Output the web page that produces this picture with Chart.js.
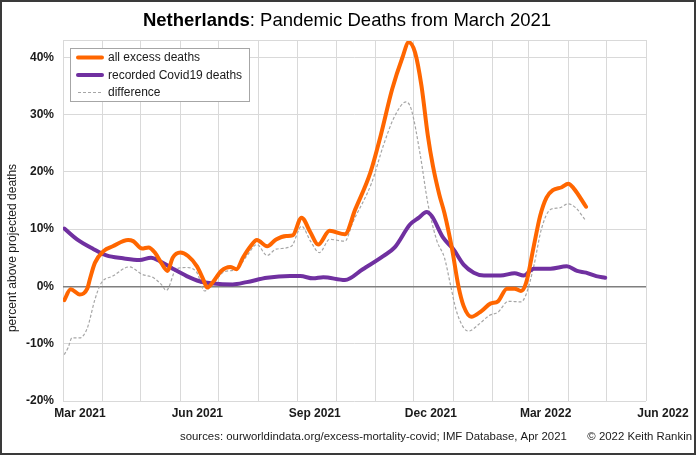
<!DOCTYPE html>
<html>
<head>
<meta charset="utf-8">
<script src="https://cdn.jsdelivr.net/npm/chart.js@4.4.1/dist/chart.umd.min.js"></script>
<style>
  html, body { margin: 0; padding: 0; background: #fff; }
  #wrap { width: 696px; height: 455px; position: relative; }
</style>
</head>
<body>
<div id="wrap"><canvas id="c"></canvas></div>
<script>
// x values: days since 1 March 2021
const monthTicks = [0, 31, 61, 92, 122, 153, 184, 214, 245, 275, 306, 337, 365, 396, 426, 457];
const monthLabels = ['Mar 2021', '', '', 'Jun 2021', '', '', 'Sep 2021', '', '', 'Dec 2021', '', '', 'Mar 2022', '', '', 'Jun 2022'];
const yTicks = [-20, -10, 0, 10, 20, 30, 40];

const excessDays = [1, 6, 13, 19, 21, 25, 32, 39, 51, 55, 62, 67, 72, 77, 82, 86, 92, 98, 105, 110, 113, 118, 124, 131, 136, 141, 147, 152, 160, 167, 175, 180, 187, 194, 200, 209, 221, 229, 241, 249, 258, 266, 271, 276, 281, 286, 290, 295, 299, 305, 310, 314, 320, 328, 335, 341, 348, 354, 359, 363, 369, 374, 379, 384, 391, 396, 400, 410];
const excessVals = [-2.4, -0.5, -1.4, -0.4, 1.2, 4.1, 6.2, 7.0, 8.1, 7.9, 6.6, 6.8, 5.9, 4.1, 2.7, 5.0, 5.9, 5.3, 3.5, 1.2, -0.2, 0.9, 2.7, 3.4, 3.0, 5.0, 7.0, 8.1, 7.0, 8.2, 8.8, 8.9, 12.0, 9.4, 7.3, 9.7, 9.1, 13.4, 19.9, 26.3, 34.4, 39.9, 42.6, 40.8, 35.0, 26.3, 21.0, 16.0, 12.8, 6.5, 0.0, -3.4, -5.3, -4.3, -3.0, -2.6, -0.4, -0.4, -0.8, 0.6, 7.0, 12.3, 15.5, 16.8, 17.3, 17.9, 17.2, 13.9];

const covidDays = [1, 11, 24, 34, 47, 60, 69, 76, 86, 97, 107, 118, 133, 144, 160, 178, 186, 196, 204, 221, 235, 251, 260, 272, 279, 285, 289, 298, 306, 314, 322, 330, 343, 354, 361, 369, 382, 395, 403, 410, 418, 425];
const covidVals = [10.1, 8.2, 6.5, 5.4, 4.9, 4.6, 5.0, 4.4, 3.1, 1.8, 0.9, 0.5, 0.35, 0.75, 1.5, 1.8, 1.8, 1.4, 1.6, 1.1, 3.0, 5.3, 6.8, 10.8, 12.0, 13.0, 12.3, 8.5, 6.5, 3.8, 2.4, 1.9, 1.9, 2.3, 1.9, 3.1, 3.1, 3.5, 2.7, 2.4, 1.8, 1.5];

const diffDays = [1, 4, 7, 13, 19, 25, 30, 39, 52, 62, 71, 77, 81, 89, 97, 105, 111, 118, 126, 136, 144, 152, 160, 167, 179, 187, 194, 201, 209, 221, 227, 242, 251, 260, 269, 273, 280, 286, 293, 299, 304, 308, 314, 318, 326, 334, 341, 349, 359, 363, 369, 375, 382, 389, 396, 402, 410];
const diffVals = [-11.9, -10.7, -9.0, -9.0, -7.3, -2.3, 0.6, 1.8, 3.4, 2.1, 1.5, 0.35, -0.7, 3.1, 3.3, 2.4, -0.8, 0.6, 2.5, 3.0, 5.3, 7.3, 5.4, 6.5, 7.0, 10.5, 7.9, 5.9, 8.2, 7.9, 11.1, 18.1, 24.5, 29.7, 32.2, 30.9, 23.0, 14.5, 8.0, 5.0, 0.0, -4.0, -7.2, -7.8, -6.6, -5.1, -4.5, -2.6, -2.7, -1.4, 3.5, 10.0, 13.4, 13.7, 14.4, 13.7, 11.4];

const toPts = (xs, ys) => xs.map((x, i) => ({ x: x, y: ys[i] }));

const FONT = '"Liberation Sans", Arial, sans-serif';
const ORANGE = '#ff6600';
const PURPLE = '#7030a0';
const GREY = '#a6a6a6';

const decor = {
  id: 'decor',
  beforeDraw(chart) {
    const ctx = chart.ctx;
    ctx.save();
    ctx.fillStyle = '#fff';
    ctx.fillRect(0, 0, chart.width, chart.height);
    ctx.restore();
  },
  afterDatasetsDraw(chart) {
    const ctx = chart.ctx;
    const a = chart.chartArea;
    ctx.save();
    // top border of plot
    ctx.strokeStyle = '#d9d9d9';
    ctx.lineWidth = 1;
    ctx.beginPath();
    ctx.moveTo(a.left, Math.round(a.top) + 0.5);
    ctx.lineTo(a.right, Math.round(a.top) + 0.5);
    ctx.stroke();

    // legend
    const lx = 70.5, ly = 48.5, lw = 179, lh = 53;
    ctx.fillStyle = '#fff';
    ctx.fillRect(lx, ly, lw, lh);
    ctx.strokeStyle = '#a6a6a6';
    ctx.lineWidth = 1;
    ctx.strokeRect(lx, ly, lw, lh);
    const items = [
      { t: 'all excess deaths', c: ORANGE, w: 4, d: [] , y: 57.5},
      { t: 'recorded Covid19 deaths', c: PURPLE, w: 4, d: [], y: 75 },
      { t: 'difference', c: GREY, w: 1.2, d: [3, 2], y: 92.5 }
    ];
    ctx.font = '12px ' + FONT;
    ctx.textBaseline = 'middle';
    ctx.textAlign = 'left';
    items.forEach(it => {
      ctx.strokeStyle = it.c;
      ctx.lineWidth = it.w;
      ctx.setLineDash(it.d);
      ctx.lineCap = it.d.length ? 'butt' : 'round';
      ctx.beginPath();
      ctx.moveTo(78, it.y);
      ctx.lineTo(102, it.y);
      ctx.stroke();
      ctx.setLineDash([]);
      ctx.fillStyle = '#1a1a1a';
      ctx.fillText(it.t, 108, it.y + 0.5);
    });
    ctx.restore();
  },
  afterDraw(chart) {
    const ctx = chart.ctx;
    ctx.save();
    // title
    const boldPart = 'Netherlands';
    const restPart = ': Pandemic Deaths from March 2021';
    ctx.textBaseline = 'middle';
    ctx.fillStyle = '#000';
    ctx.font = 'bold 18.5px ' + FONT;
    const w1 = ctx.measureText(boldPart).width;
    ctx.font = '18.5px ' + FONT;
    const w2 = ctx.measureText(restPart).width;
    const sx = 347 - (w1 + w2) / 2;
    ctx.textAlign = 'left';
    ctx.font = 'bold 18.5px ' + FONT;
    ctx.fillText(boldPart, sx, 21);
    ctx.font = '18.5px ' + FONT;
    ctx.fillText(restPart, sx + w1, 21);

    // y axis title
    ctx.save();
    ctx.translate(13, 248);
    ctx.rotate(-Math.PI / 2);
    ctx.textAlign = 'center';
    ctx.font = '12px ' + FONT;
    ctx.fillStyle = '#1a1a1a';
    ctx.fillText('percent above projected deaths', 0, 0);
    ctx.restore();

    // footer
    ctx.font = '11.4px ' + FONT;
    ctx.fillStyle = '#1a1a1a';
    ctx.textAlign = 'left';
    ctx.fillText('sources: ourworldindata.org/excess-mortality-covid; IMF Database, Apr 2021', 180, 437);
    ctx.textAlign = 'right';
    ctx.fillText('\u00A9 2022 Keith Rankin', 692, 437);

    // outer border
    ctx.strokeStyle = '#3a3a3a';
    ctx.lineWidth = 2;
    ctx.strokeRect(1, 1, chart.width - 2, chart.height - 2);
    ctx.restore();
  }
};

new Chart(document.getElementById('c'), {
  type: 'line',
  data: {
    datasets: [
      {
        label: 'difference',
        data: toPts(diffDays, diffVals),
        borderColor: GREY,
        borderWidth: 1.2,
        borderDash: [3, 2],
        pointRadius: 0,
        cubicInterpolationMode: 'monotone',
        fill: false,
        order: 3
      },
      {
        label: 'recorded Covid19 deaths',
        data: toPts(covidDays, covidVals),
        borderColor: PURPLE,
        borderWidth: 4,
        pointRadius: 0,
        cubicInterpolationMode: 'monotone',
        borderCapStyle: 'round',
        borderJoinStyle: 'round',
        fill: false,
        order: 2
      },
      {
        label: 'all excess deaths',
        data: toPts(excessDays, excessVals),
        borderColor: ORANGE,
        borderWidth: 4,
        pointRadius: 0,
        cubicInterpolationMode: 'monotone',
        borderCapStyle: 'round',
        borderJoinStyle: 'round',
        fill: false,
        order: 1
      }
    ]
  },
  options: {
    responsive: true,
    maintainAspectRatio: false,
    animation: false,
    devicePixelRatio: 1,
    layout: { padding: { left: 0, right: 50, top: 40, bottom: 0 } },
    plugins: {
      legend: { display: false },
      title: { display: false },
      tooltip: { enabled: false }
    },
    scales: {
      x: {
        type: 'linear',
        min: 0,
        max: 457,
        afterBuildTicks(scale) { scale.ticks = monthTicks.map(v => ({ value: v })); },
        afterFit(scale) { scale.height = 54; },
        grid: { color: '#d9d9d9', lineWidth: 1, drawTicks: false },
        border: { display: false },
        ticks: {
          autoSkip: false,
          maxRotation: 0,
          padding: 5,
          labelOffset: 17,
          color: '#1a1a1a',
          font: { family: FONT, size: 12, weight: 'bold' },
          callback(value) {
            const i = monthTicks.indexOf(value);
            return i >= 0 ? monthLabels[i] : '';
          }
        }
      },
      y: {
        min: -20,
        max: 43,
        afterBuildTicks(scale) { scale.ticks = yTicks.map(v => ({ value: v })); },
        afterFit(scale) { scale.width = 63; },
        grid: {
          drawTicks: false,
          color: ctx => (ctx.tick && ctx.tick.value === 0) ? '#7f7f7f' : '#d9d9d9',
          lineWidth: ctx => (ctx.tick && ctx.tick.value === 0) ? 1.6 : 1
        },
        border: { display: false },
        ticks: {
          padding: 9,
          color: '#1a1a1a',
          font: { family: FONT, size: 12, weight: 'bold' },
          callback(value) { return value + '%'; }
        }
      }
    }
  },
  plugins: [decor]
});
</script>
</body>
</html>
